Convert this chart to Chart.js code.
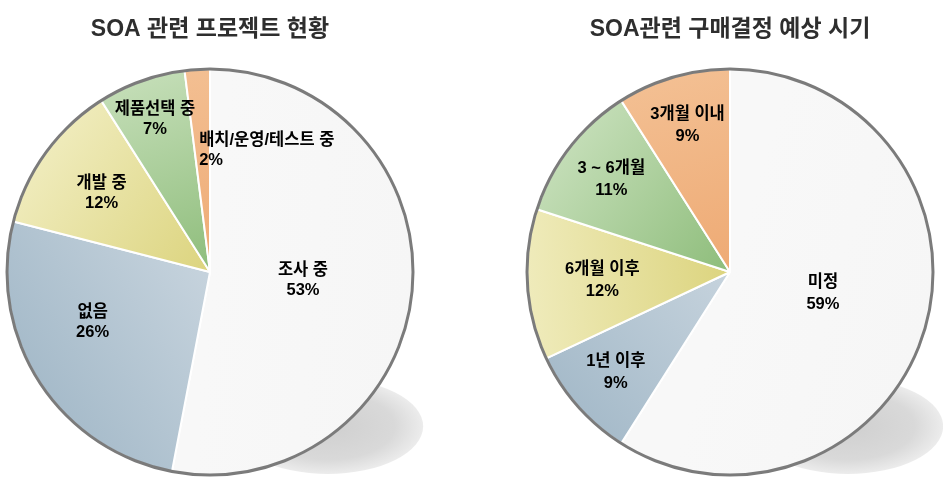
<!DOCTYPE html>
<html>
<head>
<meta charset="utf-8">
<script src="https://cdn.jsdelivr.net/npm/chart.js@4.4.1/dist/chart.umd.min.js"></script>
<style>
    body { margin: 0; background: #ffffff; width: 943px; height: 483px; overflow: hidden; position: relative; }
    .box { position: absolute; top: 0; height: 483px; }
    #leftBox { left: 0; width: 440px; }
    #rightBox { left: 520px; width: 423px; }
</style>
</head>
<body>
<div class="box" id="leftBox"><canvas id="projectChart"></canvas></div>
<div class="box" id="rightBox"><canvas id="purchaseChart"></canvas></div>
<script>
//--- Dados
var projectTitle = 'SOA 관련 프로젝트 현황';
var projectLabels = ['조사 중', '없음', '개발 중', '제품선택 중', '배치/운영/테스트 중'];
var projectValues = [53, 26, 12, 7, 2];

var purchaseTitle = 'SOA관련 구매결정 예상 시기';
var purchaseLabels = ['미정', '1년 이후', '6개월 이후', '3 ~ 6개월', '3개월 이내'];
var purchaseValues = [59, 9, 12, 11, 9];

var fontFamily = "'Liberation Sans', 'Noto Sans CJK KR', sans-serif";

// cores: [centro, borda] para cada fatia
var whiteShade = ['#f8f8f8', '#f6f6f6'];
var blueShade = ['#c6d3dd', '#a6bbca'];
var yellowShade = ['#dcd47e', '#efebbb'];
var greenShade = ['#8ebd7b', '#c3ddb6'];
var orangeShade = ['#eeaa74', '#f3bf92'];

// gradiente ao longo da bissetriz da fatia
function sliceFill(shades) {
    return function (ctx) {
        var chart = ctx.chart;
        var area = chart.chartArea;
        var i = ctx.dataIndex;
        var c = shades[i];
        if (!area) return c[0];
        var values = chart.data.datasets[0].data;
        var total = values.reduce(function (a, b) { return a + b; }, 0);
        var before = 0;
        for (var k = 0; k < i; k++) before += values[k];
        var mid = -Math.PI / 2 + 2 * Math.PI * (before + values[i] / 2) / total;
        var cx = (area.left + area.right) / 2;
        var cy = (area.top + area.bottom) / 2;
        var r = Math.min(area.right - area.left, area.bottom - area.top) / 2;
        var g = chart.ctx.createLinearGradient(cx, cy, cx + Math.cos(mid) * r, cy + Math.sin(mid) * r);
        g.addColorStop(0, c[0]);
        g.addColorStop(1, c[1]);
        return g;
    };
}

// sombra cinzenta atrás da tarte
var shadowPlugin = {
    id: 'pieShadow',
    beforeDatasetsDraw: function (chart) {
        var arc = chart.getDatasetMeta(0).data[0];
        if (!arc) return;
        var p = arc.getProps(['x', 'y', 'outerRadius'], true);
        var ctx = chart.ctx;
        var sx = p.x + p.outerRadius * 0.58;
        var sy = p.y + p.outerRadius * 0.76;
        ctx.save();
        ctx.translate(sx, sy);
        ctx.scale(1, 0.5);
        var rx = p.outerRadius * 0.47;
        var g = ctx.createRadialGradient(0, 0, 0, 0, 0, rx);
        g.addColorStop(0, '#cfcfcf');
        g.addColorStop(0.7, '#d9d9d9');
        g.addColorStop(1, '#ececec');
        ctx.fillStyle = g;
        ctx.beginPath();
        ctx.arc(0, 0, rx, 0, Math.PI * 2);
        ctx.fill();
        ctx.restore();
    }
};

// contorno exterior + etiquetas dentro das fatias
var labelPlugin = {
    id: 'sliceLabels',
    afterDatasetsDraw: function (chart, args, opts) {
        var meta = chart.getDatasetMeta(0);
        var ctx = chart.ctx;
        var values = chart.data.datasets[0].data;
        var first = meta.data[0].getProps(['x', 'y', 'outerRadius'], true);
        ctx.save();
        ctx.strokeStyle = '#7b7b7b';
        ctx.lineWidth = 3;
        ctx.beginPath();
        ctx.arc(first.x, first.y, first.outerRadius, 0, Math.PI * 2);
        ctx.stroke();

        ctx.fillStyle = '#000000';
        ctx.font = 'bold 16.5px ' + fontFamily;
        ctx.textBaseline = 'middle';
        meta.data.forEach(function (arc, i) {
            var p = arc.getProps(['x', 'y', 'startAngle', 'endAngle', 'outerRadius'], true);
            var pos = opts.positions[i];
            var a = (p.startAngle + p.endAngle) / 2 + pos[1] * Math.PI / 180;
            var d = p.outerRadius * pos[0];
            var x = p.x + Math.cos(a) * d;
            var y = p.y + Math.sin(a) * d;
            ctx.textAlign = pos[2] || 'center';
            ctx.fillText(chart.data.labels[i], x, y - opts.gap / 2);
            ctx.fillText(values[i] + '%', x, y + opts.gap / 2);
        });
        ctx.restore();
    }
};

function createPie(id, title, labels, values, positions, gap, padRight) {
    var ctx = document.getElementById(id).getContext('2d');
    return new Chart(ctx, {
        type: 'pie',
        data: {
            labels: labels,
            datasets: [{
                data: values,
                backgroundColor: sliceFill([whiteShade, blueShade, yellowShade, greenShade, orangeShade]),
                borderColor: '#ffffff',
                borderWidth: 2,
                hoverOffset: 0
            }]
        },
        options: {
            responsive: true,
            maintainAspectRatio: false,
            animation: false,
            events: [],
            layout: { padding: { left: 6, right: padRight, bottom: 7 } },
            plugins: {
                legend: { display: false },
                tooltip: { enabled: false },
                title: {
                    display: true,
                    text: title,
                    color: '#2e2e2e',
                    font: { family: fontFamily, size: 23, weight: 'bold', lineHeight: 1.2 },
                    padding: { top: 16, bottom: 24.4 }
                },
                sliceLabels: { positions: positions, gap: gap }
            }
        },
        plugins: [shadowPlugin, labelPlugin]
    });
}

// [raio relativo, desvio em graus, alinhamento]
createPie('projectChart', projectTitle, projectLabels, projectValues,
    [[0.46, 0], [0.63, 9], [0.66, 0], [0.8, 0], [0.6, -1.5, 'left']], 20, 26);
createPie('purchaseChart', purchaseTitle, purchaseLabels, purchaseValues,
    [[0.47, -3], [0.75, 0], [0.63, 0], [0.74, 0], [0.75, 0]], 22, 9);
</script>
</body>
</html>
